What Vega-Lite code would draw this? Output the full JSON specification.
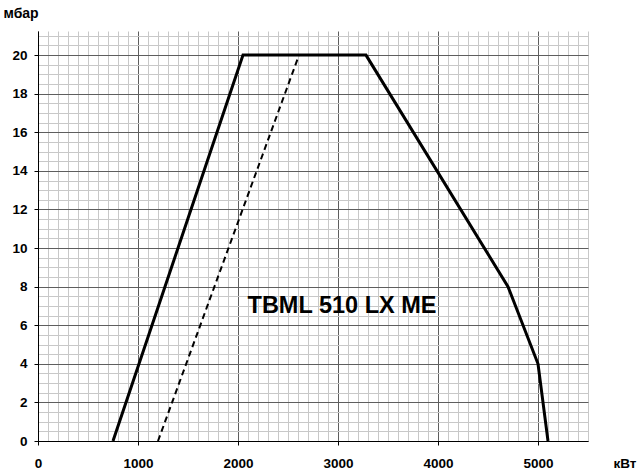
{
  "$schema": "https://vega.github.io/schema/vega-lite/v6.json",
  "width": 550,
  "height": 410,
  "autosize": {"type": "none"},
  "padding": {"left": 38, "top": 31, "right": 52, "bottom": 32},
  "background": "white",
  "datasets": {
    "range": [
      {"kw": 750, "mbar": 0, "i": 1},
      {"kw": 2050, "mbar": 20, "i": 2},
      {"kw": 3280, "mbar": 20, "i": 3},
      {"kw": 4700, "mbar": 8, "i": 4},
      {"kw": 5000, "mbar": 4, "i": 5},
      {"kw": 5100, "mbar": 0, "i": 6}
    ],
    "dashed": [
      {"kw": 1200, "mbar": 0, "i": 1},
      {"kw": 2610, "mbar": 20, "i": 2}
    ],
    "label": [
      {"kw": 3040, "mbar": 7.0, "name": "TBML 510 LX ME"}
    ]
  },
  "encoding": {
    "x": {
      "field": "kw",
      "type": "quantitative",
      "scale": {"domain": [0, 5500], "nice": false, "zero": false},
      "axis": {
        "title": "кВт",
        "titleAngle": 0,
        "titleAlign": "left",
        "titleBaseline": "alphabetic",
        "titleX": 575,
        "titleY": 26,
        "titleFont": "Liberation Sans",
        "titleFontSize": 13.5,
        "titleFontWeight": "bold",
        "titleColor": "black",
        "values": [0,100,200,300,400,500,600,700,800,900,1000,1100,1200,1300,1400,1500,1600,1700,1800,1900,2000,2100,2200,2300,2400,2500,2600,2700,2800,2900,3000,3100,3200,3300,3400,3500,3600,3700,3800,3900,4000,4100,4200,4300,4400,4500,4600,4700,4800,4900,5000,5100,5200,5300,5400,5500],
        "labelExpr": "datum.value % 1000 === 0 ? datum.value : ''",
        "labelFont": "Liberation Sans",
        "labelFontSize": 13.5,
        "labelFontWeight": "bold",
        "labelColor": "black",
        "labelBaseline": "alphabetic",
        "labelPadding": 22,
        "labelOverlap": false,
        "labelFlush": false,
        "tickSize": 4,
        "tickColor": "black",
        "tickOpacity": {"condition": {"test": "datum.value % 1000 === 0", "value": 1}, "value": 0},
        "domainColor": "black",
        "domainWidth": 1,
        "grid": true,
        "gridColor": {"condition": {"test": "datum.value % 1000 === 0", "value": "#5e5e5e"}, "value": "#c8c8c8"},
        "gridWidth": 1,
        "gridOpacity": 1
      }
    },
    "y": {
      "field": "mbar",
      "type": "quantitative",
      "scale": {"domain": [0, 21.25], "nice": false, "zero": false},
      "axis": {
        "title": "мбар",
        "titleAngle": 0,
        "titleAlign": "left",
        "titleBaseline": "alphabetic",
        "titleX": -35,
        "titleY": -14,
        "titleFont": "Liberation Sans",
        "titleFontSize": 14,
        "titleFontWeight": "bold",
        "titleColor": "black",
        "values": [0,0.5,1,1.5,2,2.5,3,3.5,4,4.5,5,5.5,6,6.5,7,7.5,8,8.5,9,9.5,10,10.5,11,11.5,12,12.5,13,13.5,14,14.5,15,15.5,16,16.5,17,17.5,18,18.5,19,19.5,20,20.5,21],
        "labelExpr": "datum.value % 2 === 0 ? datum.value : ''",
        "labelFont": "Liberation Sans",
        "labelFontSize": 13.5,
        "labelFontWeight": "bold",
        "labelColor": "black",
        "labelPadding": 7,
        "labelOverlap": false,
        "labelFlush": false,
        "tickSize": 4,
        "tickColor": "black",
        "tickOpacity": {"condition": {"test": "datum.value % 2 === 0", "value": 1}, "value": 0},
        "domainColor": "black",
        "domainWidth": 1,
        "grid": true,
        "gridColor": {"condition": {"test": "datum.value % 2 === 0", "value": "#5e5e5e"}, "value": "#c8c8c8"},
        "gridWidth": 1,
        "gridOpacity": 1
      }
    }
  },
  "layer": [
    {
      "data": {"name": "range"},
      "mark": {"type": "line", "color": "black", "strokeWidth": 3, "strokeJoin": "miter", "clip": true},
      "encoding": {"order": {"field": "i", "type": "quantitative"}}
    },
    {
      "data": {"name": "dashed"},
      "mark": {"type": "line", "color": "black", "strokeWidth": 2, "strokeDash": [6, 4]},
      "encoding": {"order": {"field": "i", "type": "quantitative"}}
    },
    {
      "data": {"name": "label"},
      "mark": {"type": "text", "font": "Liberation Sans", "fontSize": 23.5, "fontWeight": "bold", "color": "black", "align": "center", "baseline": "middle"},
      "encoding": {"text": {"field": "name", "type": "nominal"}}
    }
  ],
  "config": {"view": {"stroke": null}}
}
